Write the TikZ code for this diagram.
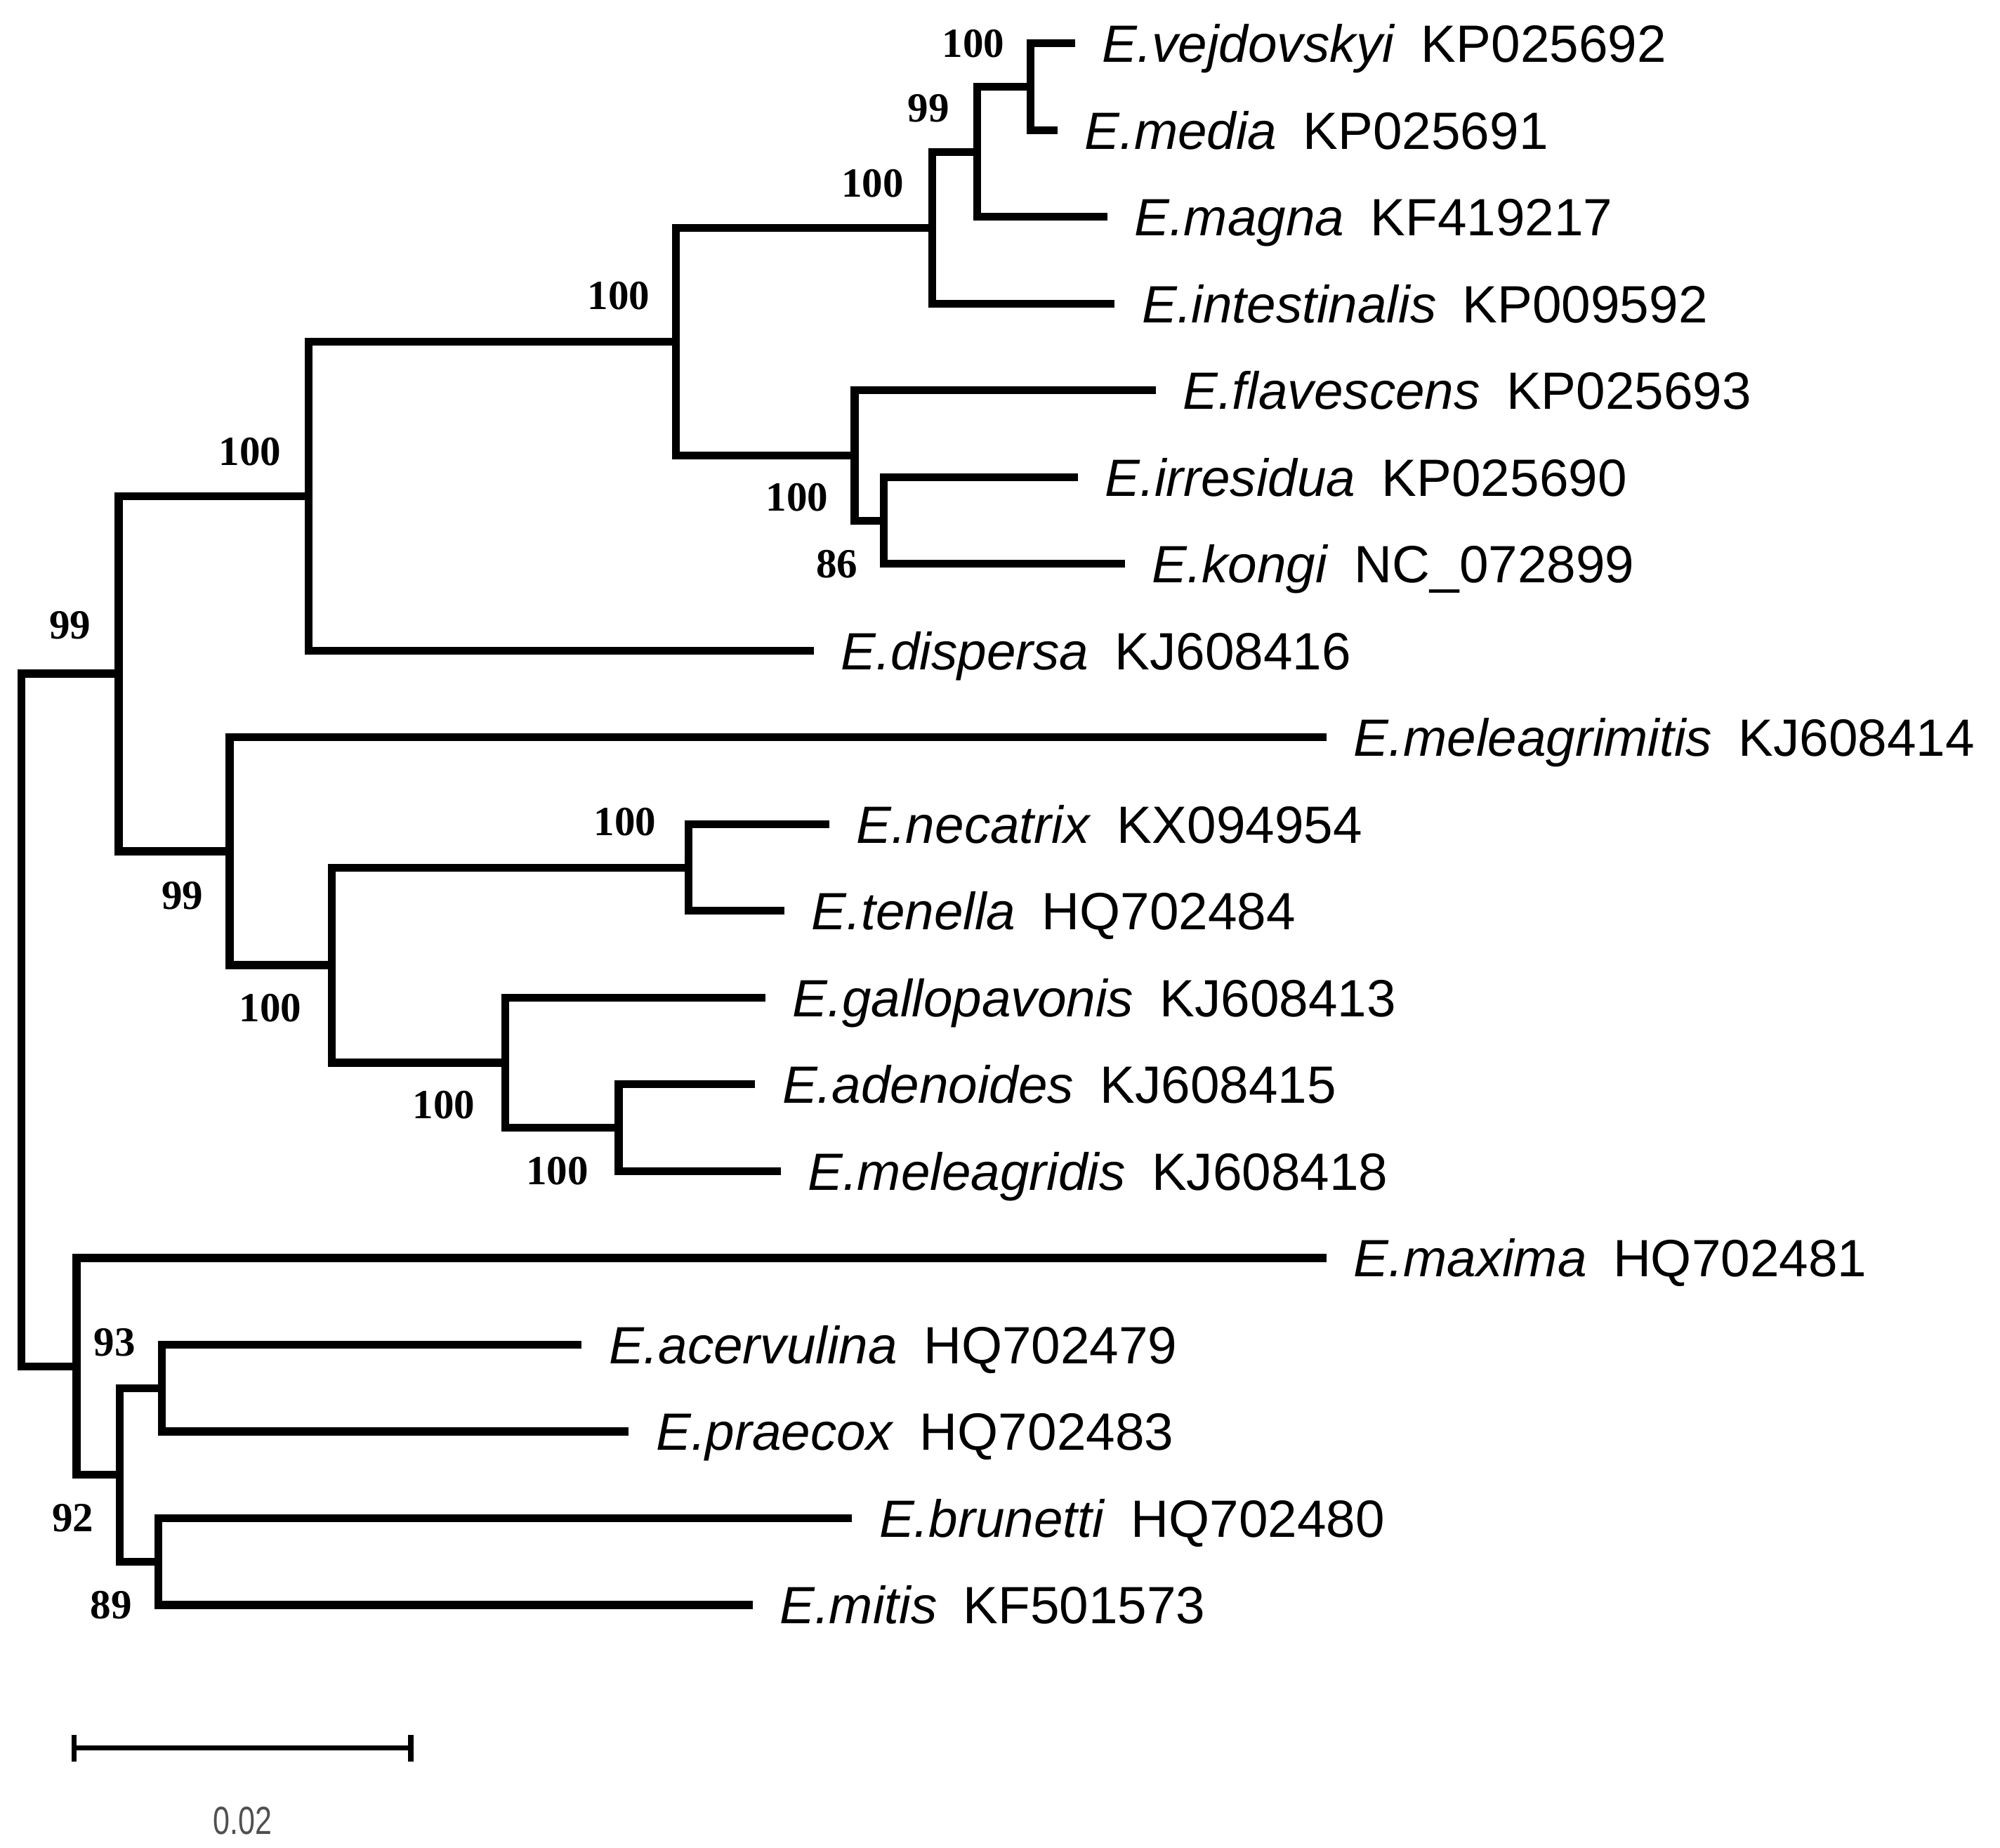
\documentclass[tikz,border=0pt]{standalone}
\usepackage{fontspec}
\setmainfont{Liberation Sans}
\newfontfamily\bsfont{Liberation Serif}
\definecolor{scalegray}{HTML}{505050}
\begin{document}
\begin{tikzpicture}[x=0.02cm,y=-0.02cm,
  br/.style={line width=3.5pt, line join=miter},
  tiplab/.style={anchor=base west, inner sep=0pt, font=\fontsize{23.4}{28}\selectfont, yshift=-8.4pt},
  bs/.style={inner sep=0pt, font=\bsfont\bfseries\fontsize{18.5}{22}\selectfont}]
\path[use as bounding box] (0,0) rectangle (1568,1448);
% tip ends
\coordinate (t1) at (843,34);
\coordinate (t2) at (829,102);
\coordinate (t3) at (868,170);
\coordinate (t4) at (874,238);
\coordinate (t5) at (906,306);
\coordinate (t6) at (845,374);
\coordinate (t7) at (882,442);
\coordinate (t8) at (638,510);
\coordinate (t9) at (1040,578);
\coordinate (t10) at (650,646);
\coordinate (t11) at (615,714);
\coordinate (t12) at (600,782);
\coordinate (t13) at (592,850);
\coordinate (t14) at (612,918);
\coordinate (t15) at (1040,986);
\coordinate (t16) at (456,1054);
\coordinate (t17) at (493,1122);
\coordinate (t18) at (668,1190);
\coordinate (t19) at (590,1258);
% internal nodes
\coordinate (A) at (808,68);
\coordinate (B) at (766,119);
\coordinate (C) at (731,178.5);
\coordinate (D) at (693,408);
\coordinate (E) at (670,357);
\coordinate (F) at (530,267.75);
\coordinate (G) at (242,388.9);
\coordinate (H) at (540,680);
\coordinate (I) at (485,884);
\coordinate (J) at (396,833);
\coordinate (K) at (260,756.5);
\coordinate (L) at (180,667.25);
\coordinate (M) at (93,528);
\coordinate (N) at (127,1088);
\coordinate (O) at (124,1224);
\coordinate (P) at (94,1156);
\coordinate (Q) at (60,1071);
\coordinate (R) at (17,799.5);
% branches
\draw[br] (t1) -| (A) |- (t2);
\draw[br] (A) -| (B) |- (t3);
\draw[br] (B) -| (C) |- (t4);
\draw[br] (t6) -| (D) |- (t7);
\draw[br] (t5) -| (E) |- (D);
\draw[br] (C) -| (F) |- (E);
\draw[br] (F) -| (G) |- (t8);
\draw[br] (t10) -| (H) |- (t11);
\draw[br] (t13) -| (I) |- (t14);
\draw[br] (t12) -| (J) |- (I);
\draw[br] (H) -| (K) |- (J);
\draw[br] (t9) -| (L) |- (K);
\draw[br] (G) -| (M) |- (L);
\draw[br] (t16) -| (N) |- (t17);
\draw[br] (t18) -| (O) |- (t19);
\draw[br] (N) -| (P) |- (O);
\draw[br] (t15) -| (Q) |- (P);
\draw[br] (M) -| (R) |- (Q);
% tip labels
\node[tiplab] (l1) at ([xshift=0.42cm]t1) {\textit{E.vejdovskyi}\hspace{0.5em}KP025692};
\node[tiplab] (l2) at ([xshift=0.42cm]t2) {\textit{E.media}\hspace{0.5em}KP025691};
\node[tiplab] (l3) at ([xshift=0.42cm]t3) {\textit{E.magna}\hspace{0.5em}KF419217};
\node[tiplab] (l4) at ([xshift=0.42cm]t4) {\textit{E.intestinalis}\hspace{0.5em}KP009592};
\node[tiplab] (l5) at ([xshift=0.42cm]t5) {\textit{E.flavescens}\hspace{0.5em}KP025693};
\node[tiplab] (l6) at ([xshift=0.42cm]t6) {\textit{E.irresidua}\hspace{0.5em}KP025690};
\node[tiplab] (l7) at ([xshift=0.42cm]t7) {\textit{E.kongi}\hspace{0.5em}NC\_072899};
\node[tiplab] (l8) at ([xshift=0.42cm]t8) {\textit{E.dispersa}\hspace{0.5em}KJ608416};
\node[tiplab] (l9) at ([xshift=0.42cm]t9) {\textit{E.meleagrimitis}\hspace{0.5em}KJ608414};
\node[tiplab] (l10) at ([xshift=0.42cm]t10) {\textit{E.necatrix}\hspace{0.5em}KX094954};
\node[tiplab] (l11) at ([xshift=0.42cm]t11) {\textit{E.tenella}\hspace{0.5em}HQ702484};
\node[tiplab] (l12) at ([xshift=0.42cm]t12) {\textit{E.gallopavonis}\hspace{0.5em}KJ608413};
\node[tiplab] (l13) at ([xshift=0.42cm]t13) {\textit{E.adenoides}\hspace{0.5em}KJ608415};
\node[tiplab] (l14) at ([xshift=0.42cm]t14) {\textit{E.meleagridis}\hspace{0.5em}KJ608418};
\node[tiplab] (l15) at ([xshift=0.42cm]t15) {\textit{E.maxima}\hspace{0.5em}HQ702481};
\node[tiplab] (l16) at ([xshift=0.42cm]t16) {\textit{E.acervulina}\hspace{0.5em}HQ702479};
\node[tiplab] (l17) at ([xshift=0.42cm]t17) {\textit{E.praecox}\hspace{0.5em}HQ702483};
\node[tiplab] (l18) at ([xshift=0.42cm]t18) {\textit{E.brunetti}\hspace{0.5em}HQ702480};
\node[tiplab] (l19) at ([xshift=0.42cm]t19) {\textit{E.mitis}\hspace{0.5em}KF501573};
% bootstrap values
\node[bs] (bA) at (763,34) {100};
\node[bs] (bB) at (728,85) {99};
\node[bs] (bC) at (684,144) {100};
\node[bs] (bF) at (485,232) {100};
\node[bs] (bG) at (196,354) {100};
\node[bs] (bM) at (55,490) {99};
\node[bs] (bE) at (625,390) {100};
\node[bs] (bD) at (656,442) {86};
\node[bs] (bH) at (490,644) {100};
\node[bs] (bL) at (143,702) {99};
\node[bs] (bK) at (212,790) {100};
\node[bs] (bJ) at (348,866) {100};
\node[bs] (bI) at (437,918) {100};
\node[bs] (bN) at (90,1052) {93};
\node[bs] (bP) at (57,1190) {92};
\node[bs] (bO) at (87,1258) {89};
% scale bar
\coordinate (s1) at (58,1370);
\coordinate (s2) at (322,1370);
\coordinate (s1a) at (58,1360);
\coordinate (s1b) at (58,1381);
\coordinate (s2a) at (322,1360);
\coordinate (s2b) at (322,1381);
\draw[line width=2.2pt] (s1) -- (s2);
\draw[line width=2.3pt] (s1a) -- (s1b);
\draw[line width=2.3pt] (s2a) -- (s2b);
\node[inner sep=0pt, text=scalegray, font=\fontsize{17.5}{20}\selectfont] (sl) at (190,1427) {\scalebox{0.77}[1]{0.02}};
\end{tikzpicture}
\end{document}
